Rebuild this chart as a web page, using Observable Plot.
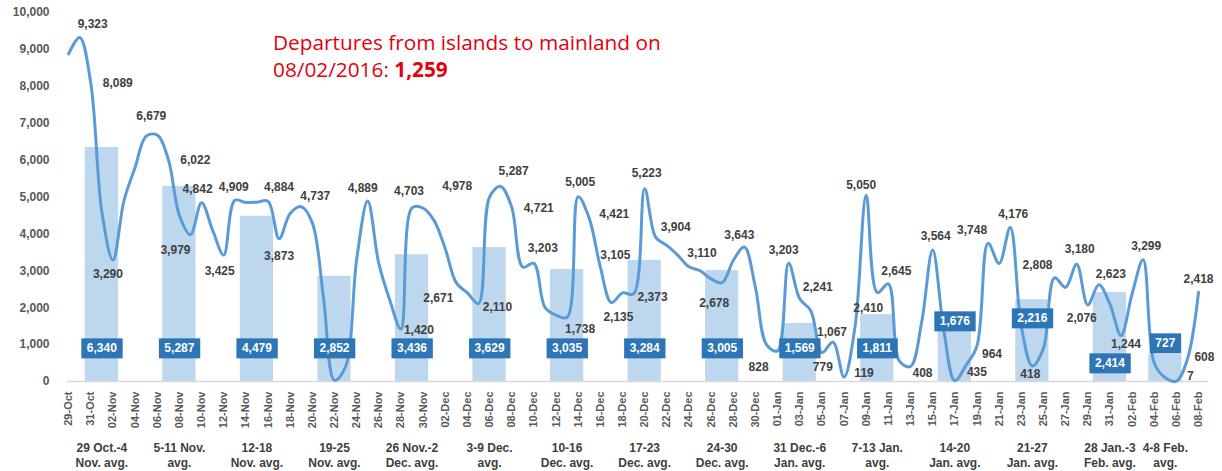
<!DOCTYPE html>
<html><head><meta charset="utf-8">
<script src="https://cdn.jsdelivr.net/npm/d3@7"></script>
<script src="https://cdn.jsdelivr.net/npm/@observablehq/plot@0.6"></script>
<style>
body{margin:0;background:#fff;}
#wrap{position:relative;width:1222px;height:471px;overflow:hidden;}
#title{position:absolute;left:273px;top:29px;color:#e3000f;font-family:"Open Sans",sans-serif;font-size:20.8px;line-height:27px;white-space:nowrap;}
#title b{font-weight:700;}
</style></head><body>
<div id="wrap"><div id="chart"></div><div id="title">Departures from islands to mainland on<br>08/02/2016: <b>1,259</b></div></div>
<script>
// ---- data ----
const months = [["Oct", 29, 31], ["Nov", 1, 30], ["Dec", 1, 31], ["Jan", 1, 31], ["Feb", 1, 8]];
const dates = months.flatMap(([m, a, b]) => d3.range(a, b + 1).map(d => String(d).padStart(2, "0") + "-" + m));

// daily departures (29-Oct ... 08-Feb)
const departures = [
  8880, 9323, 8089, 4600, 3290, 4900, 5800, 6650, 6679, 6022,
  4500, 3979, 4842, 4100, 3425, 4909, 4850, 4860, 4884, 3873,
  4550, 4737, 4300, 2300, 30, 400, 3300, 4889, 3200, 2200,
  1420, 4703, 4700, 4360, 3600, 2671, 2400, 2110, 5000, 5287,
  4721, 3100, 3203, 2010, 1800, 1738, 5005, 4421, 3105, 2135,
  2400, 2373, 5223, 3904, 3690, 3420, 3110, 3000, 2780, 2678,
  3280, 3643, 2550, 1000, 828, 3203, 2241, 1920, 779, 1067,
  119, 1500, 5050, 2410, 2645, 550, 408, 1600, 3564, 1400,
  20, 435, 964, 3748, 3200, 4176, 1500, 418, 900, 2808,
  2550, 3180, 2076, 2623, 2100, 1244, 2370, 3299, 500, 100,
  7, 608, 2418
];

// weekly averages
const weekNames = ["29 Oct.-4\nNov. avg.", "5-11 Nov.\navg.", "12-18\nNov. avg.", "19-25\nNov. avg.",
  "26 Nov.-2\nDec. avg.", "3-9 Dec.\navg.", "10-16\nDec. avg.", "17-23\nDec. avg.", "24-30\nDec. avg.",
  "31 Dec.-6\nJan. avg.", "7-13 Jan.\navg.", "14-20\nJan. avg.", "21-27\nJan. avg.", "28 Jan.-3\nFeb. avg.",
  "4-8 Feb.\navg."];
const weekCenterDay = ["01-Nov", "08-Nov", "15-Nov", "22-Nov", "29-Nov", "06-Dec", "13-Dec", "20-Dec", "27-Dec",
  "03-Jan", "10-Jan", "17-Jan", "24-Jan", "31-Jan", "05-Feb"];
const weekAvg = [6340, 5287, 4479, 2852, 3436, 3629, 3035, 3284, 3005, 1569, 1811, 1676, 2216, 2414, 727];

// labelled days and their label texts
const labelDays = ["30-Oct","31-Oct","02-Nov","06-Nov","07-Nov","09-Nov","10-Nov","12-Nov","13-Nov","16-Nov",
  "17-Nov","19-Nov","25-Nov","28-Nov","29-Nov","01-Dec","03-Dec","05-Dec","07-Dec","08-Dec",
  "10-Dec","13-Dec","14-Dec","15-Dec","16-Dec","17-Dec","19-Dec","20-Dec","21-Dec","24-Dec",
  "27-Dec","29-Dec","01-Jan","02-Jan","03-Jan","05-Jan","06-Jan","07-Jan","09-Jan","10-Jan",
  "11-Jan","13-Jan","15-Jan","18-Jan","19-Jan","20-Jan","22-Jan","24-Jan","26-Jan","28-Jan",
  "29-Jan","30-Jan","01-Feb","03-Feb","06-Feb","07-Feb","08-Feb"];
const labelTexts = ["9,323","8,089","3,290","6,679","6,022","3,979","4,842","3,425","4,909","4,884",
  "3,873","4,737","4,889","1,420","4,703","4,978","2,671","2,110","5,287","4,721",
  "3,203","1,738","5,005","4,421","3,105","2,135","2,373","5,223","3,904","3,110",
  "2,678","3,643","828","3,203","2,241","779","1,067","119","5,050","2,410",
  "2,645","408","3,564","435","964","3,748","4,176","418","2,808","3,180",
  "2,076","2,623","1,244","3,299","7","608","2,418"];

// ---- label placement (pixel offsets from each point) ----
const labelDx = [13,27,-5,-6,27,-15,-4,-4,-1,11, 0,14,-5,18,-3,23,-18,19,13,27,
  9,13,2,25,15,7,19,2,20,13, -8,-5,-19,-5,18,1,-1,20,-5,-9, 8,12,3,11,15,-16,3,-2,-17,3, -6,12,5,3,14,17,0];
const labelDy = [-13,0,14,-19,1,15,-14,16,-13,-14, 18,-11,-13,1,-17,-34,15,4,-15,1,
  -15,12,-15,-4,-12,14,3,-16,-10,-14, 20,-12,16,-13,-12,14,-10,-4,-10,16, -13,7,-14,7,8,-13,-13,8,-13,-15, 13,-11,9,-14,-5,-2,-13];
const weekBoxDy = [-33,-33,-33,-33,-33,-33,-33,-33,-33,-33,-33,-60,-63,-18,-38];

// ---- build ----
const idx = new Map(dates.map((d, i) => [d, i]));
const daily = departures.map((v, i) => ({i, v}));
const weeks = weekAvg.map((v, k) => ({c: idx.get(weekCenterDay[k]), v, name: weekNames[k], k}));
const tickIdx = d3.range(0, dates.length, 2);

const labelFont = {fontSize: 12, fontWeight: "bold", fill: "#404040"};
const labelMarks = labelDays.map((d, k) => {
  const i = idx.get(d);
  return Plot.text([{i, v: departures[i], t: labelTexts[k]}], {x: "i", y: "v", text: "t", dx: labelDx[k], dy: labelDy[k], ...labelFont});
});
const boxMarks = weeks.map(w => Plot.text([w], {x: "c", text: d => d3.format(",")(d.v), frameAnchor: "bottom", lineAnchor: "middle",
  dy: weekBoxDy[w.k], fontSize: 12, fontWeight: "bold", fill: "white", ariaLabel: () => "wkbox"}));

const chart = Plot.plot({
  width: 1222, height: 471,
  marginLeft: 67, marginRight: 14, marginTop: 12, marginBottom: 90,
  style: {fontFamily: "'Liberation Sans', Arial, sans-serif", background: "#fff", overflow: "visible"},
  x: {type: "linear", domain: [-0.1, 102.9], axis: null},
  y: {domain: [0, 10000], axis: null},
  marks: [
    Plot.rect(weeks, {x1: d => d.c - 1.5, x2: d => d.c + 1.5, y1: 0, y2: "v", fill: "#bdd7ee"}),
    Plot.ruleY([0], {stroke: "#d9d9d9", strokeWidth: 1.5}),
    Plot.line(daily, {x: "i", y: "v", curve: "catmull-rom", stroke: "#5b9bd5", strokeWidth: 3}),
    Plot.axisY({ticks: d3.range(0, 10001, 1000), tickFormat: d3.format(","), tickSize: 0, tickPadding: 18,
      fontSize: 12, fontWeight: "bold", fill: "#595959", label: null}),
    Plot.axisX({ticks: tickIdx, tickFormat: i => dates[i], tickRotate: -90, tickSize: 0, tickPadding: 10,
      fontSize: 11, fontWeight: "bold", fill: "#595959", label: null}),
    ...labelMarks,
    Plot.text(weeks, {x: "c", text: "name", frameAnchor: "bottom", lineAnchor: "middle", dy: 73, lineHeight: 1.25, ...labelFont}),
    ...boxMarks
  ]
});
document.getElementById("chart").append(chart);
const NS = "http://www.w3.org/2000/svg";
let boxTexts = chart.querySelectorAll('text[aria-label="wkbox"]');
if (!boxTexts.length) boxTexts = chart.querySelectorAll('g[aria-label="wkbox"] text, g[fill="white"] text');
boxTexts.forEach(t => {
  const b = t.getBBox();
  const r = document.createElementNS(NS, "rect");
  r.setAttribute("x", b.x - 5.5);
  r.setAttribute("y", b.y - 3);
  r.setAttribute("width", b.width + 11);
  r.setAttribute("height", b.height + 6);
  r.setAttribute("fill", "#2e75b6");
  if (t.getAttribute("transform")) r.setAttribute("transform", t.getAttribute("transform"));
  t.parentNode.insertBefore(r, t);
});
</script></body></html>
